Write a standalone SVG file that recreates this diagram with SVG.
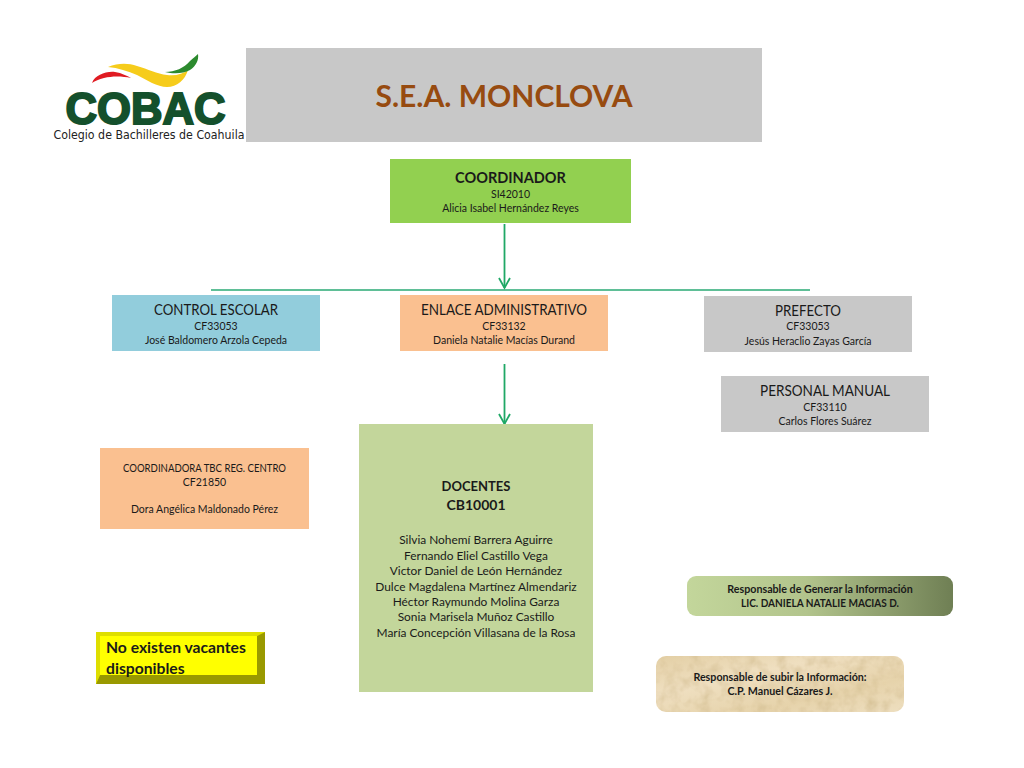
<svg xmlns="http://www.w3.org/2000/svg" width="1024" height="768" viewBox="0 0 1024 768">
<style>
text{font-family:Lato,"Open Sans","Liberation Sans",sans-serif;text-anchor:middle;fill:#1a1a1a}
.h{font-size:14.500px}
.s{font-size:10.500px}
.d{font-size:11.900px}
.b{font-weight:700}
.r{font-size:10.700px;font-weight:700}
.cn{fill:none;stroke:#1fa866;stroke-width:1.800}
.l{fill:none;stroke:#5fbf97;stroke-width:2}
</style>
<defs>
<linearGradient id="gr" x1="0" x2="1" y1="0" y2="0"><stop offset="0" stop-color="#c3d69b"/><stop offset=".45" stop-color="#b2c48c"/><stop offset="1" stop-color="#6f7f54"/></linearGradient>
<linearGradient id="sand" x1="0" x2="1" y1="0" y2="1"><stop offset="0" stop-color="#e3cfa5"/><stop offset=".35" stop-color="#efdfc0"/><stop offset=".7" stop-color="#e6d3ab"/><stop offset="1" stop-color="#eedfc0"/></linearGradient>
<filter id="grain" x="0" y="0" width="1" height="1"><feTurbulence type="fractalNoise" baseFrequency="0.09" numOctaves="3" seed="4" result="n"/><feColorMatrix in="n" type="matrix" values="0 0 0 0 0.62  0 0 0 0 0.48  0 0 0 0 0.25  0 0 0 1.100 -0.42" result="c"/><feComposite in="c" in2="SourceAlpha" operator="in" result="t"/><feMerge><feMergeNode in="SourceGraphic"/><feMergeNode in="t"/></feMerge></filter>
<marker id="arr" markerUnits="userSpaceOnUse" markerWidth="14" markerHeight="14" refX="12" refY="7" orient="auto" viewBox="0 0 14 14"><path d="M2 1.500L12 7L2 12.500" fill="none" stroke="#1fa866" stroke-width="1.800"/></marker>
</defs>
<rect width="1024" height="768" fill="#fff"/>
<g id="logo">
<path d="M92 83C95 75 106 71 115 72C122 73 127 76 131 78C122 76 112 76 104 78C99 79 95 81 92 83Z" fill="#e01b22"/>
<path d="M108 67C118 63 128 63 137 66C148 69 157 74 167 75C176 76 183 74 188 70C185 80 177 87 167 87C157 87 147 80 137 75C128 71 118 68 108 67Z" fill="#f6cc1b"/>
<path d="M165 72C175 72 184 68 190 61C193 58 196 56 198 54C199 60 196 66 190 70C183 74 173 74 165 72Z" fill="#2c8a2e"/>
<text x="145.500" y="124" style="font-size:44px;font-weight:700;fill:#14502c;stroke:#14502c;stroke-width:2;font-family:'Liberation Sans',sans-serif" textLength="160" lengthAdjust="spacingAndGlyphs">COBAC</text>
<text x="149" y="139" style="font-size:11.500px;fill:#222;font-family:'DejaVu Sans',sans-serif" textLength="191" lengthAdjust="spacingAndGlyphs">Colegio de Bachilleres de Coahuila</text>
</g>
<g id="title">
<rect x="246" y="48" width="516" height="94" fill="#c8c8c8"/>
<text x="504" y="107" style="font-size:30px;font-weight:700;fill:#974b10">S.E.A. MONCLOVA</text>
</g>
<g id="connectors">
<path class="l" d="M211 290H810"/>
<path class="cn" d="M504.500 224V288" marker-end="url(#arr)"/>
<path class="cn" d="M504.500 364V424" marker-end="url(#arr)"/>
</g>
<g id="coordinador">
<rect x="390" y="159" width="241" height="64" fill="#92d050"/>
<text x="510.500" y="183" class="h b">COORDINADOR</text>
<text x="510.500" y="198" class="s">SI42010</text>
<text x="510.500" y="212" class="s">Alicia Isabel Hernández Reyes</text>
</g>
<g id="control-escolar">
<rect x="112" y="295" width="208" height="56" fill="#92cddc"/>
<text x="216" y="315" class="h" textLength="124" lengthAdjust="spacingAndGlyphs">CONTROL ESCOLAR</text>
<text x="216" y="330" class="s">CF33053</text>
<text x="216" y="344" class="s">José Baldomero Arzola Cepeda</text>
</g>
<g id="enlace-administrativo">
<rect x="400" y="295" width="208" height="56" fill="#fac090"/>
<text x="504" y="315" class="h" textLength="166" lengthAdjust="spacingAndGlyphs">ENLACE ADMINISTRATIVO</text>
<text x="504" y="330" class="s">CF33132</text>
<text x="504" y="344" class="s">Daniela Natalie Macías Durand</text>
</g>
<g id="prefecto">
<rect x="704" y="296" width="208" height="56" fill="#c8c8c8"/>
<text x="808" y="316" class="h" textLength="66" lengthAdjust="spacingAndGlyphs">PREFECTO</text>
<text x="808" y="330" class="s">CF33053</text>
<text x="808" y="345" class="s">Jesús Heraclio Zayas García</text>
</g>
<g id="personal-manual">
<rect x="721" y="376" width="208" height="56" fill="#c8c8c8"/>
<text x="825" y="396" class="h" textLength="130" lengthAdjust="spacingAndGlyphs">PERSONAL MANUAL</text>
<text x="825" y="411" class="s">CF33110</text>
<text x="825" y="425" class="s">Carlos Flores Suárez</text>
</g>
<g id="coordinadora-tbc">
<rect x="100" y="448" width="209" height="81" fill="#fac090"/>
<text x="204.500" y="472" class="s" textLength="163" lengthAdjust="spacingAndGlyphs">COORDINADORA TBC REG. CENTRO</text>
<text x="204.500" y="486" class="s">CF21850</text>
<text x="204.500" y="513" class="s">Dora Angélica Maldonado Pérez</text>
</g>
<g id="docentes">
<rect x="359" y="424" width="234" height="268" fill="#c3d69b"/>
<text x="476" y="491" class="b" style="font-size:14px" textLength="69" lengthAdjust="spacingAndGlyphs">DOCENTES</text>
<text x="476" y="510" class="b" style="font-size:14px">CB10001</text>
<text x="476" y="544" class="d">Silvia Nohemí Barrera Aguirre</text>
<text x="476" y="560" class="d">Fernando Eliel Castillo Vega</text>
<text x="476" y="575" class="d">Victor Daniel de León Hernández</text>
<text x="476" y="591" class="d">Dulce Magdalena Martínez Almendariz</text>
<text x="476" y="606" class="d">Héctor Raymundo Molina Garza</text>
<text x="476" y="621" class="d">Sonia Marisela Muñoz Castillo</text>
<text x="476" y="637" class="d">María Concepción Villasana de la Rosa</text>
</g>
<g id="vacantes">
<rect x="96" y="632" width="169" height="52" fill="#ffff00"/>
<path d="M96 632H265L257 636H100V675L96 684Z" fill="#dede00"/>
<path d="M265 632V684H96L100 675H257V636Z" fill="#999900"/>
<text x="106" y="653" class="b" style="font-size:15.700px;text-anchor:start">No existen vacantes</text>
<text x="106" y="674" class="b" style="font-size:15.700px;text-anchor:start">disponibles</text>
</g>
<g id="responsable-generar">
<rect x="687" y="576" width="266" height="40" rx="9" fill="url(#gr)"/>
<text x="820" y="593" class="r">Responsable de Generar la Información</text>
<text x="820" y="607" class="r" textLength="158" lengthAdjust="spacingAndGlyphs">LIC. DANIELA NATALIE MACIAS D.</text>
</g>
<g id="responsable-subir">
<rect x="656" y="656" width="248" height="56" rx="10" fill="url(#sand)" filter="url(#grain)"/>
<text x="780" y="681" class="r">Responsable de subir la Información:</text>
<text x="780" y="695" class="r" textLength="105" lengthAdjust="spacingAndGlyphs">C.P. Manuel Cázares J.</text>
</g>
</svg>
